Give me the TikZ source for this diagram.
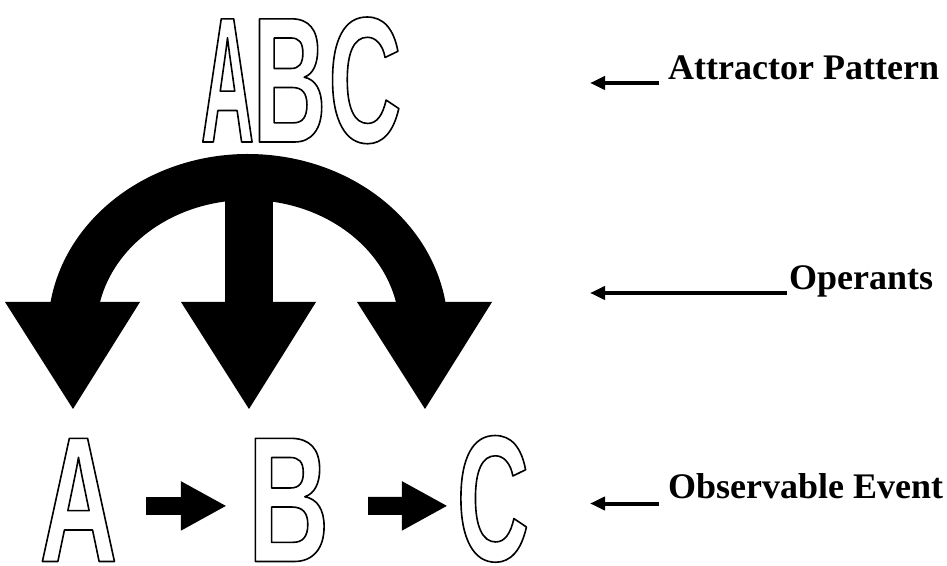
\documentclass[tikz,border=0pt]{standalone}
\usepackage{fontspec}
\setmainfont{Liberation Serif}
\newfontfamily\letterfont{Liberation Sans}
\usetikzlibrary{arrows.meta}
\newcommand\outlineletter[2]{{\letterfont\bfseries\fontsize{179}{179}\selectfont\addfontfeatures{FakeStretch=#1}\special{pdf:literal direct 1.6 w 1 j 1 Tr}#2\special{pdf:literal direct 0 Tr}}}
\begin{document}
\begin{tikzpicture}[x=1pt,y=1pt,
  bigletter/.style={inner sep=0pt,anchor=base},
  labeltext/.style={inner sep=0pt,anchor=base west,font=\bfseries\fontsize{36}{40}\selectfont},
  pointerarrow/.style={line width=4pt,-{Triangle[length=15pt,width=13pt]}},
  blockarrow/.style={line width=18pt,-{Triangle[length=46pt,width=46pt]}},
  solidshape/.style={fill=black}]
\useasboundingbox (0,0) rectangle (947,565);
% attractor pattern letters
\node[bigletter] (tA) at (227.5,423) {\outlineletter{0.41}{A}};
\node[bigletter] (tB) at (289.5,423) {\outlineletter{0.57}{B}};
\node[bigletter] (tC) at (365,423) {\outlineletter{0.566}{C}};
% operants: arch with three arrows
\fill[solidshape] (50.2,261) arc[start angle=171.5,end angle=8.5,x radius=200,y radius=176]
  -- (396.4,261) arc[start angle=11.54,end angle=168.46,x radius=151.5,y radius=130] -- cycle;
\fill[solidshape] (225,262) rectangle (273,380);
\fill[solidshape] (5,263) -- (140,263) -- (73,156) -- cycle;
\fill[solidshape] (181,263) -- (316,263) -- (249,156) -- cycle;
\fill[solidshape] (357,263) -- (492,263) -- (425,156) -- cycle;
% observable event letters
\node[bigletter] (bA) at (78.5,3.5) {\outlineletter{0.6}{A}};
\node[bigletter] (bB) at (288.5,3.5) {\outlineletter{0.63}{B}};
\node[bigletter] (bC) at (493,4.5) {\outlineletter{0.56}{C}};
\draw[blockarrow,shorten <=28.7pt,shorten >=20.8pt] ([yshift=-6pt]bA.east) -- ([yshift=-6pt]bB.west);
\draw[blockarrow,shorten <=38.8pt,shorten >=8.8pt] ([yshift=-6pt]bB.east) -- ([yshift=-7pt]bC.west);
% labels
\node[labeltext] (lAttr) at (668,485) {Attractor Pattern};
\node[labeltext] (lOper) at (789,275) {Operants};
\node[labeltext] (lObs) at (668,67) {Observable Event};
\coordinate (pAttr) at (590,482);
\coordinate (pOper) at (590,272);
\coordinate (pObs) at (590,61.5);
\draw[pointerarrow] ([xshift=-9pt,yshift=-3pt]lAttr.base west) -- (pAttr);
\draw[pointerarrow] ([xshift=-2pt,yshift=-3pt]lOper.base west) -- (pOper);
\draw[pointerarrow] ([xshift=-9pt,yshift=-5.5pt]lObs.base west) -- (pObs);
\end{tikzpicture}
\end{document}
